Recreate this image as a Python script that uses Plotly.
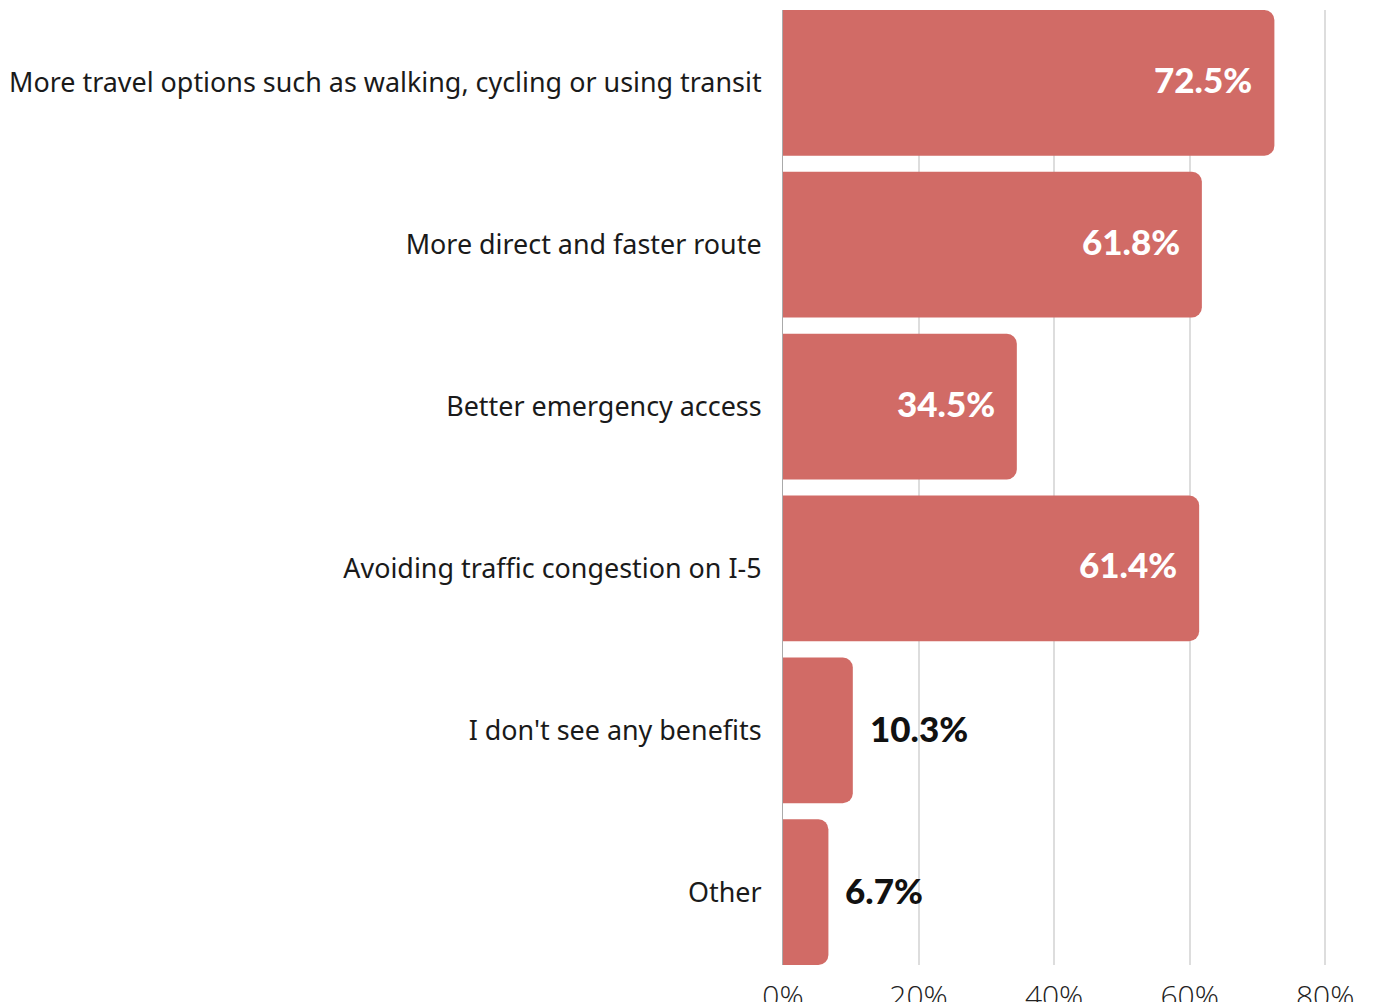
import plotly.graph_objects as go

categories = [
    "More travel options such as walking, cycling or using transit",
    "More direct and faster route",
    "Better emergency access",
    "Avoiding traffic congestion on I-5",
    "I don't see any benefits",
    "Other",
]
values = [72.5, 61.8, 34.5, 61.4, 10.3, 6.7]
tick_vals = [0, 20, 40, 60, 80]
tick_text = ["0%", "20%", "40%", "60%", "80%"]

BAR = "#D16B66"

fig = go.Figure()
fig.add_trace(go.Bar(
    y=categories, x=values, orientation="h",
    marker=dict(color=BAR, line=dict(width=0)),
    hoverinfo="skip",
))

ann = []
for c, v in zip(categories, values):
    inside = v > 20
    ann.append(dict(
        x=v, y=c, xref="x", yref="y",
        text=f"{v:.1f}%", showarrow=False,
        xanchor="right" if inside else "left",
        xshift=-20 if inside else 15,
        yshift=4 if inside else 2,
        font=dict(family="Lato", size=35, weight=900,
                  color="#FFFFFF" if inside else "#111111"),
    ))

fig.update_layout(
    width=1374, height=1002,
    margin=dict(l=783, r=42, t=10, b=37, autoexpand=False),
    paper_bgcolor="white", plot_bgcolor="white",
    bargap=0.1, barcornerradius=10,
    showlegend=False,
    annotations=ann,
    xaxis=dict(
        range=[0, 81], tickvals=tick_vals, ticktext=tick_text,
        showgrid=True, gridcolor="#DDDDDD", gridwidth=1.5,
        zeroline=False, showline=False, automargin=False,
        tickfont=dict(family="Open Sans", size=30, weight=300, color="#222222"),
        ticklabelstandoff=11,
    ),
    yaxis=dict(
        type="category", categoryorder="array", categoryarray=categories,
        range=[5.45, -0.45], automargin=False,
        showgrid=False, zeroline=False,
        showline=True, linecolor="#AAAAAA", linewidth=1,
        ticks="", ticklabelstandoff=15,
        tickfont=dict(family="Noto Sans", size=26.9, color="#1A1A1A"),
    ),
)

fig.write_html("out.html")
